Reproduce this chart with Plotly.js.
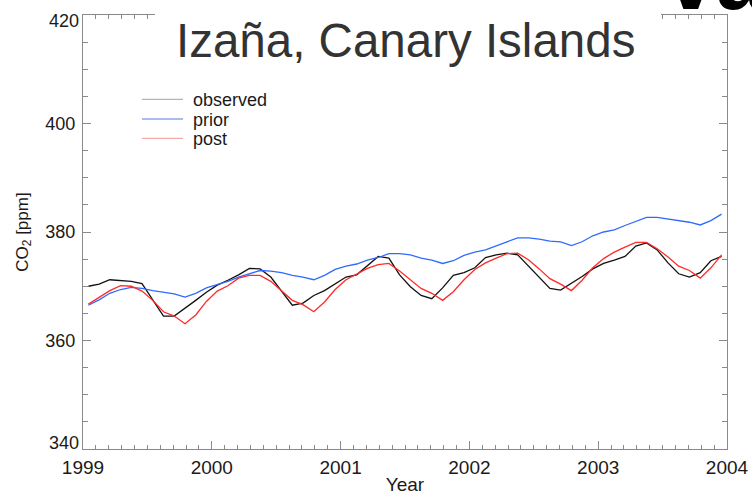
<!DOCTYPE html>
<html>
<head>
<meta charset="utf-8">
<script src="https://cdn.plot.ly/plotly-3.0.1.min.js"></script>
<style>html,body{margin:0;padding:0;background:#fff;}#chart{width:752px;height:495px;}</style>
</head>
<body>
<div id="chart"></div>
<script>
// time axis: years and mid-month fractions
var years = [1999, 2000, 2001, 2002, 2003];
var monthFrac = [0.042, 0.125, 0.208, 0.292, 0.375, 0.458, 0.542, 0.625, 0.708, 0.792, 0.875, 0.958];

var observed = [
  370.0, 370.4, 371.2, 371.1, 370.9, 370.5, 367.5, 364.5, 364.5, 365.9, 367.4, 368.9,
  370.2, 371.1, 372.1, 373.3, 373.2, 371.7, 369.1, 366.5, 366.9, 368.3, 369.2, 370.5,
  371.7, 372.1, 373.8, 375.5, 375.2, 372.1, 369.9, 368.3, 367.7, 369.7, 372.0, 372.5,
  373.4, 375.3, 375.8, 376.1, 375.8, 373.7, 371.5, 369.6, 369.3, 370.5, 371.8, 373.2,
  374.2, 374.8, 375.5, 377.4, 378.0, 376.7, 374.3, 372.3, 371.7, 372.5, 374.7, 375.5
];
var prior = [
  366.5, 367.5, 368.7, 369.4, 369.8, 369.6, 369.2, 368.9, 368.6, 368.0, 368.7, 369.7,
  370.3, 370.9, 371.7, 372.3, 372.9, 372.8, 372.5, 372.0, 371.7, 371.2, 372.0, 373.1,
  373.7, 374.1, 374.8, 375.3, 376.0, 376.0, 375.8, 375.2, 374.8, 374.2, 374.7, 375.7,
  376.3, 376.7, 377.5, 378.2, 378.9, 378.9, 378.7, 378.3, 378.2, 377.5, 378.2, 379.3,
  380.0, 380.4, 381.2, 382.0, 382.7, 382.7, 382.4, 382.1, 381.8, 381.3, 382.1, 383.3
];
var post = [
  366.7, 368.0, 369.2, 370.1, 370.0, 369.1, 367.4, 365.3, 364.5, 363.1, 364.7, 367.2,
  369.1, 370.1, 371.5, 372.0, 372.0, 370.9, 369.2, 367.4, 366.6, 365.3, 367.1, 369.4,
  371.2, 372.3, 373.3, 374.0, 374.2, 372.8, 371.2, 369.6, 368.7, 367.4, 369.0, 371.2,
  373.1, 374.3, 375.2, 376.0, 376.1, 374.9, 373.2, 371.4, 370.4, 369.2, 371.1, 373.4,
  375.1, 376.3, 377.2, 378.1, 378.1, 376.9, 375.4, 373.7, 372.9, 371.5, 373.4, 375.8
];
var seriesNames = ["observed", "prior", "post"];
var seriesColors = ["#111111", "#2f6bff", "#ff2a2a"];
var legendSampleColors = ["#b4b4b4", "#8ea4e6", "#f4aaaa"];
var xTickVals = [1999, 2000, 2001, 2002, 2003, 2004];
var yInnerTicks = [360, 380, 400];
var yTopTick = [420];
var yBottomTick = [340];
var titleText = "Izaña, Canary Islands";

var t = [];
years.forEach(function (y) { monthFrac.forEach(function (f) { t.push(y + f); }); });

var FONT = "Liberation Sans, Arial, Helvetica, sans-serif";
var seriesData = [observed, prior, post];

var traces = seriesData.map(function (d, k) {
  return {x: t, y: d, type: "scatter", mode: "lines", name: seriesNames[k],
          line: {color: seriesColors[k], width: 1.3}, showlegend: false, hoverinfo: "skip"};
});
// empty helper traces so the two label-only overlay axes get drawn
["y2", "y3"].forEach(function (ax) {
  traces.push({x: [null], y: [null], type: "scatter", mode: "lines", yaxis: ax,
               showlegend: false, hoverinfo: "skip"});
});

// hand-placed legend (tight rows as in the reference)
var legRowsY = [0.8058, 0.7604, 0.7159];   // paper y of each legend row
var legShapes = legRowsY.map(function (yy, k) {
  return {type: "line", xref: "paper", yref: "paper", x0: 0.0916, x1: 0.1553, y0: yy, y1: yy,
          line: {color: legendSampleColors[k], width: 1.3}};
});
var legTexts = legRowsY.map(function (yy, k) {
  return {text: seriesNames[k], xref: "paper", yref: "paper", x: 0.1677, y: yy - 0.002,
          xanchor: "left", yanchor: "middle", showarrow: false,
          font: {family: FONT, size: 18, color: "#1a1a1a"}};
});

var axisCommon = {
  showline: true, linecolor: "#8a8a8a", linewidth: 1,
  ticks: "inside", tickcolor: "#8a8a8a", tickwidth: 1,
  mirror: "ticks", showgrid: false, zeroline: false
};
var yLabelFont = {family: FONT, size: 18, color: "#1a1a1a"};
// overlay axes only used to keep the end labels inside the frame (as in the reference)
var yEndAxis = {
  overlaying: "y", side: "left", range: [340, 420], showline: false, showgrid: false, zeroline: false,
  ticks: "", tickfont: yLabelFont, ticklabelstandoff: 3
};

var layout = {
  width: 752, height: 495,
  margin: {l: 83, r: 25, t: 15, b: 46},
  paper_bgcolor: "#ffffff", plot_bgcolor: "#ffffff",
  font: {family: FONT, color: "#1a1a1a"},
  showlegend: false,
  xaxis: Object.assign({}, axisCommon, {
    range: [1999, 2004], tickvals: xTickVals, tickformat: "d", ticklen: 8,
    tickfont: {family: FONT, size: 19, color: "#1a1a1a"}, ticklabelstandoff: 1,
    minor: {dtick: 0.1, tick0: 1999, ticks: "inside", ticklen: 4, tickcolor: "#8a8a8a"},
    title: {text: "Year", font: {family: FONT, size: 19, color: "#1a1a1a"}, standoff: 4}
  }),
  yaxis: Object.assign({}, axisCommon, {
    range: [340, 420], tickvals: yInnerTicks, ticklen: 8, ticklabelstandoff: 3,
    tickfont: yLabelFont,
    minor: {dtick: 5, tick0: 340, ticks: "inside", ticklen: 5, tickcolor: "#8a8a8a"},
    title: {text: "CO<sub>2</sub> [ppm]", font: {family: FONT, size: 17, color: "#1a1a1a"}, standoff: 12}
  }),
  yaxis2: Object.assign({}, yEndAxis, {tickvals: yTopTick, ticklabelshift: 6}),
  yaxis3: Object.assign({}, yEndAxis, {tickvals: yBottomTick, ticklabelshift: -6}),
  shapes: [
    {type: "rect", xref: "paper", yref: "paper", x0: 0.1118, x1: 0.8975, y0: 0.972, y1: 1.01,
     fillcolor: "#ffffff", line: {width: 0}, layer: "above"}
  ].concat(legShapes),
  annotations: [
    {text: titleText, xref: "paper", yref: "paper", x: 0.5, y: 0.942, xanchor: "center", yanchor: "middle",
     showarrow: false, font: {family: FONT, size: 47.5, color: "#333333"}},
    {text: "<b>va</b>", xref: "paper", yref: "paper", x: 0.983, y: 0.965, xanchor: "center", yanchor: "bottom",
     showarrow: false, font: {family: FONT, size: 90, color: "#000000"}}
  ].concat(legTexts)
};

Plotly.newPlot("chart", traces, layout, {staticPlot: true, displayModeBar: false});
</script>
</body>
</html>
